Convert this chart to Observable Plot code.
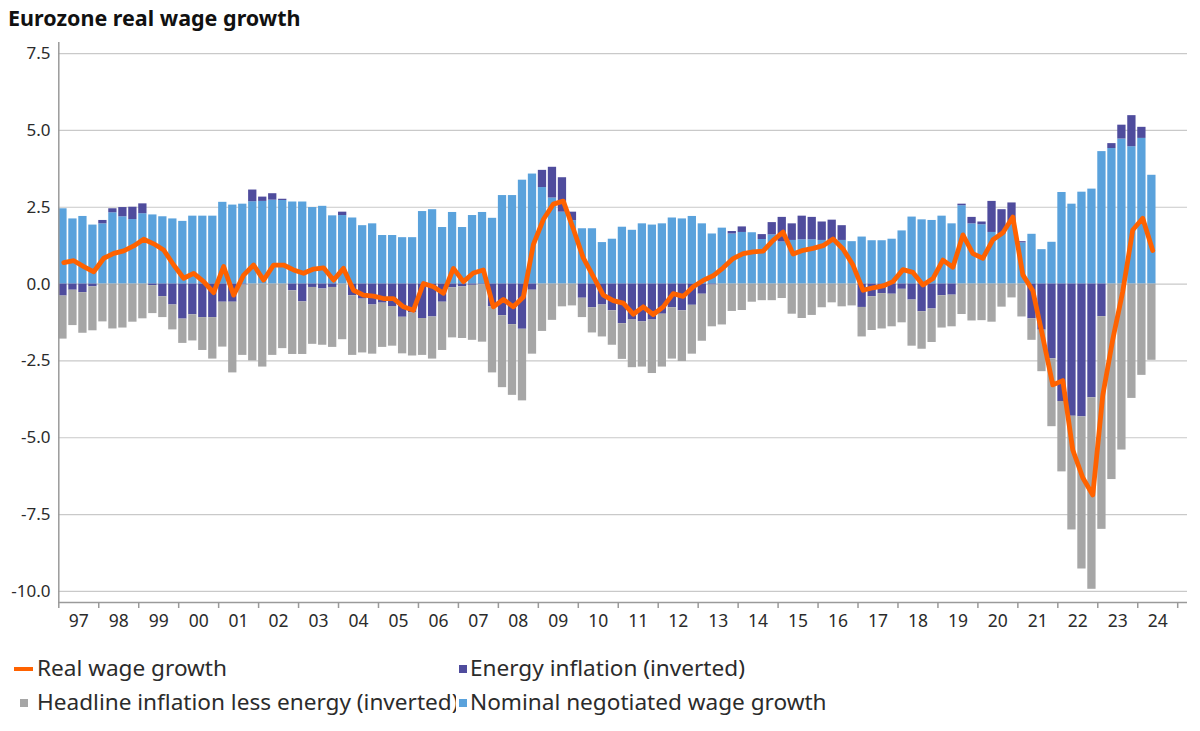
<!DOCTYPE html>
<html>
<head>
<meta charset="utf-8">
<script src="https://cdn.jsdelivr.net/npm/d3@7"></script>
<script src="https://cdn.jsdelivr.net/npm/@observablehq/plot@0.6"></script>
<style>
  body { margin: 0; background: #fff; font-family: "Noto Sans", sans-serif; }
  #wrap { position: relative; width: 1200px; height: 731px; overflow: hidden; }
  #title { position: absolute; left: 8px; top: 3px; font-weight: 700; font-size: 21.5px; color: #111; white-space: nowrap; }
  #chart { position: absolute; left: 0; top: 0; }
  .leg { position: absolute; font-size: 22.6px; color: #2b2b2b; white-space: nowrap; line-height: 30px; height: 30px; overflow: hidden; }
  .sw { position: absolute; }
</style>
</head>
<body>
<div id="wrap">
  <div id="chart"></div>
  <div id="title">Eurozone real wage growth</div>
  <div id="legend"></div>
</div>
<script>
// Quarterly data, 1997 Q1 .. 2024 Q2
const startYear = 1997;
const yearLabels = ["97","98","99","00","01","02","03","04","05","06","07","08","09","10","11","12","13","14","15","16","17","18","19","20","21","22","23","24"];
const yTicks = [-10, -7.5, -5, -2.5, 0, 2.5, 5, 7.5];

const seriesNames = ["Nominal negotiated wage growth", "Energy inflation (inverted)", "Headline inflation less energy (inverted)"];
const seriesColors = ["#5aa2dc", "#4f4c9d", "#a6a6a6"];
const lineName = "Real wage growth";
const lineColor = "#ff6200";

const nominal = [
  2.45, 2.12, 2.20, 1.92, 1.96, 2.32, 2.19, 2.10, 2.29, 2.25,
  2.19, 2.12, 2.04, 2.21, 2.21, 2.21, 2.66, 2.57, 2.60, 2.68,
  2.69, 2.73, 2.72, 2.67, 2.67, 2.49, 2.53, 2.22, 2.23, 2.15,
  1.90, 1.96, 1.58, 1.58, 1.51, 1.51, 2.36, 2.42, 1.84, 2.33,
  1.84, 2.23, 2.33, 2.14, 2.88, 2.88, 3.38, 3.58, 3.14, 2.80,
  2.34, 2.06, 1.80, 1.80, 1.35, 1.46, 1.85, 1.75, 1.96, 1.92,
  1.96, 2.15, 2.12, 2.20, 1.96, 1.63, 1.82, 1.63, 1.68, 1.67,
  1.45, 1.60, 1.37, 1.42, 1.44, 1.44, 1.42, 1.42, 1.42, 1.38,
  1.53, 1.41, 1.41, 1.46, 1.73, 2.18, 2.09, 2.07, 2.21, 1.96,
  2.55, 1.96, 1.93, 1.68, 1.62, 1.93, 1.34, 1.62, 1.12, 1.36,
  2.98, 2.60, 2.99, 3.09, 4.31, 4.41, 4.72, 4.47, 4.74, 3.54
];
const energy = [
  -0.39, -0.20, -0.28, -0.09, 0.11, 0.13, 0.30, 0.40, 0.32, -0.05,
  -0.41, -0.68, -1.14, -1.00, -1.09, -1.09, -0.59, -0.59, -0.03, 0.38,
  0.14, 0.21, 0.04, -0.22, -0.58, -0.11, -0.16, -0.11, 0.11, -0.38,
  -0.49, -0.68, -0.62, -0.73, -1.08, -0.94, -1.12, -1.07, -0.59, -0.12,
  -0.09, -0.04, -0.02, -0.74, -1.03, -1.32, -1.47, -0.20, 0.56, 1.00,
  1.12, 0.28, -0.46, -0.77, -0.68, -0.87, -1.29, -1.17, -1.23, -1.17,
  -0.98, -0.77, -0.87, -0.69, -0.33, -0.03, 0.00, 0.08, 0.18, 0.00,
  0.16, 0.40, 0.80, 0.54, 0.77, 0.73, 0.60, 0.66, 0.48, 0.00,
  -0.76, -0.41, -0.31, -0.33, -0.17, -0.52, -0.90, -0.81, -0.38, -0.36,
  0.05, 0.21, 0.09, 1.01, 0.80, 0.71, 0.04, -1.13, -1.50, -2.43,
  -3.82, -4.30, -4.32, -3.70, -1.06, 0.16, 0.45, 1.01, 0.36, 0.00
];
const core = [
  -1.40, -1.15, -1.32, -1.43, -1.23, -1.46, -1.43, -1.24, -1.13, -0.91,
  -0.68, -0.81, -0.79, -0.85, -1.07, -1.35, -1.46, -2.30, -2.29, -2.50,
  -2.70, -2.32, -2.10, -2.07, -1.71, -1.85, -1.83, -1.95, -1.81, -1.94,
  -1.75, -1.60, -1.44, -1.29, -1.19, -1.40, -1.20, -1.37, -1.57, -1.63,
  -1.68, -1.79, -1.87, -2.15, -2.34, -2.30, -2.33, -2.08, -1.54, -1.18,
  -0.74, -0.71, -0.63, -0.82, -1.04, -1.12, -1.16, -1.55, -1.47, -1.74,
  -1.72, -1.67, -1.65, -1.59, -1.53, -1.36, -1.33, -0.89, -0.86, -0.59,
  -0.54, -0.54, -0.47, -0.98, -1.12, -1.02, -0.77, -0.61, -0.74, -0.71,
  -0.96, -1.10, -1.15, -1.06, -1.09, -1.50, -1.22, -1.09, -1.05, -1.03,
  -0.99, -1.20, -1.19, -1.24, -0.75, -0.45, -1.07, -0.70, -1.35, -2.21,
  -2.29, -3.70, -4.95, -6.23, -6.92, -6.36, -5.40, -3.72, -2.97, -2.48
];
const real = [
  0.70, 0.76, 0.57, 0.40, 0.84, 1.00, 1.08, 1.24, 1.46, 1.31,
  1.11, 0.62, 0.19, 0.35, 0.08, -0.28, 0.57, -0.36, 0.29, 0.62,
  0.13, 0.62, 0.62, 0.46, 0.35, 0.49, 0.53, 0.13, 0.51, -0.20,
  -0.36, -0.39, -0.47, -0.47, -0.74, -0.85, 0.02, -0.09, -0.30, 0.51,
  0.08, 0.36, 0.46, -0.74, -0.50, -0.74, -0.42, 1.28, 2.10, 2.60,
  2.70, 1.80, 0.85, 0.25, -0.36, -0.54, -0.62, -0.98, -0.74, -0.99,
  -0.74, -0.31, -0.40, -0.09, 0.12, 0.27, 0.53, 0.83, 0.99, 1.05,
  1.07, 1.42, 1.69, 0.98, 1.10, 1.16, 1.25, 1.47, 1.14, 0.62,
  -0.20, -0.12, -0.06, 0.08, 0.47, 0.38, -0.03, 0.18, 0.78, 0.55,
  1.60, 0.99, 0.84, 1.44, 1.67, 2.18, 0.30, -0.22, -1.73, -3.28,
  -3.14, -5.40, -6.30, -6.86, -3.62, -1.80, -0.24, 1.76, 2.14, 1.09
];

// Build table (stack order: nominal, energy, core)
const barRows = [];
[nominal, energy, core].forEach((vals, s) => {
  vals.forEach((v, i) => barRows.push({t: startYear + i / 4, v, key: seriesNames[s]}));
});
const lineRows = real.map((v, i) => ({t: startYear + i / 4 + 0.125, v}));
const yearStarts = yearLabels.map((_, i) => startYear + i);
const yMin = -10.36, yMax = 7.86;

const chart = Plot.plot({
  width: 1200,
  height: 640,
  marginLeft: 58,
  marginRight: 13,
  marginTop: 42,
  marginBottom: 38,
  style: {fontFamily: "'Noto Sans', sans-serif", color: "#2b2b2b", background: "transparent"},
  x: {domain: [startYear, startYear + yearLabels.length], range: [58.3, 1177.2], label: null},
  y: {domain: [yMin, yMax], label: null},
  color: {domain: seriesNames, range: seriesColors},
  marks: [
    Plot.ruleY(yTicks, {stroke: "#c9c9c9", strokeWidth: 1.2}),
    Plot.rectY(barRows, {x1: "t", x2: d => d.t + 0.25, y: "v", fill: "key", insetRight: 1.7}),
    Plot.line(lineRows, {x: "t", y: "v", stroke: lineColor, strokeWidth: 4.8, strokeLinejoin: "round"}),
    Plot.ruleX([startYear], {stroke: "#9a9a9a", strokeWidth: 1.5}),
    Plot.ruleY([yMin], {stroke: "#9a9a9a", strokeWidth: 1.5}),
    Plot.axisY({ticks: yTicks, tickSize: 0, tickPadding: 8, tickFormat: d => d.toFixed(1), fontSize: 17, label: null}),
    Plot.axisX({ticks: [...yearStarts, startYear + yearLabels.length], tickSize: 6, tickFormat: () => "", stroke: "#9a9a9a", strokeWidth: 1.5, label: null}),
    Plot.axisX({ticks: yearStarts.map(y => y + 0.5), tickSize: 0, tickPadding: 12, tickFormat: d => yearLabels[Math.floor(d) - startYear], fontSize: 17.5, label: null})
  ]
});
document.getElementById("chart").appendChild(chart);

// Legend
const legend = document.getElementById("legend");
const items = [
  {label: lineName, color: lineColor, type: "line", sx: 14, tx: 37, cy: 669, w: 420},
  {label: seriesNames[1], color: seriesColors[1], type: "sq", sx: 459, tx: 470, cy: 669, w: 600},
  {label: seriesNames[2], color: seriesColors[2], type: "sq", sx: 20, tx: 37, cy: 703, w: 419},
  {label: seriesNames[0], color: seriesColors[0], type: "sq", sx: 459, tx: 470, cy: 703, w: 600}
];
items.forEach(it => {
  const sw = document.createElement("div");
  sw.className = "sw";
  if (it.type === "line") {
    Object.assign(sw.style, {left: it.sx + "px", top: (it.cy - 2) + "px", width: "19px", height: "4px", background: it.color});
  } else {
    Object.assign(sw.style, {left: it.sx + "px", top: (it.cy - 4) + "px", width: "8px", height: "8px", background: it.color});
  }
  legend.appendChild(sw);
  const tx = document.createElement("div");
  tx.className = "leg";
  tx.textContent = it.label;
  Object.assign(tx.style, {left: it.tx + "px", top: (it.cy - 16) + "px", width: it.w + "px"});
  legend.appendChild(tx);
});
</script>
</body>
</html>
